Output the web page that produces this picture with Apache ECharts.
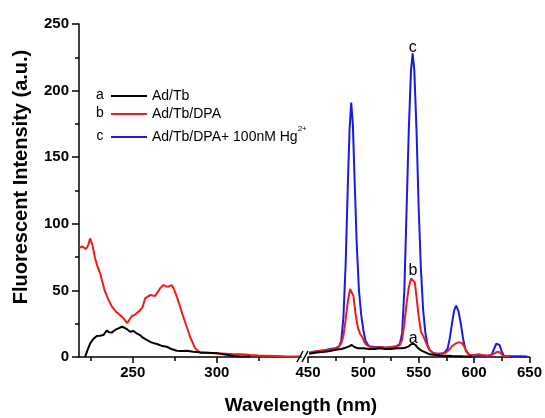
<!DOCTYPE html>
<html><head><meta charset="utf-8">
<script src="https://cdn.jsdelivr.net/npm/echarts@6/dist/echarts.min.js"></script>
<style>html,body{margin:0;padding:0;background:#fff}#c{width:545px;height:418px}</style>
</head><body><div id="c"></div>
<script>
// ---- data ----
var seriesNames = ['Ad/Tb', 'Ad/Tb/DPA', 'Ad/Tb/DPA+ 100nM Hg2+'];
var seriesLetters = ['a', 'b', 'c'];
var leftTicksMajor = [250, 300];
var leftTicksMinor = [225, 275, 325];
var rightTicks = [450, 500, 550, 600, 650];
var yTicks = [0, 50, 100, 150, 200, 250];

// left segment (excitation, 218-350 nm)
var blackLeft = [[221.6,0],[223,5],[224.6,10],[226.5,13.5],[228.6,15.8],[230.5,16],[232.5,16.5],[234.5,19.8],[236,18.5],[237.5,18.3],[239.5,20.3],[241.5,21.5],[243.5,22.7],[245,22],[246.4,21],[248.4,19],[250.4,19.5],[252,18],[254.3,16.5],[256,14.5],[258.3,12.8],[261,11],[264.3,9.8],[267,8.5],[270.2,7.7],[273,6],[276.2,4.7],[279,4.5],[282.1,4.7],[286,4],[290.1,3.5],[295,3.2],[300,2.8],[305,1.8],[309.9,0.8],[315,0.4],[320,0.3]];
var redLeft = [[218.2,82],[219.8,83],[222.2,81],[223.5,84],[224.6,89],[226,84],[227.6,74],[229,68],[230.5,63],[232,56],[233.5,49],[235.5,43],[237.5,38],[240,34],[242.4,31.5],[244.5,29],[246.8,25.5],[248,28],[249.4,30.8],[251,31.5],[254.3,35],[256,38],[257.3,44],[260.3,46.5],[263.3,45.8],[266.3,51.6],[268.2,54],[270,53],[271.2,52.8],[273.2,54],[274.5,51],[276.2,45.3],[280.1,30],[284.1,15.2],[287.1,6.5],[290.1,3],[295,3],[300,2.8],[305,2.5],[310,2],[315,2],[320,1.5],[325,1.2],[330,1],[335,0.8],[340,0.5],[345,0.4],[349.6,0.3]];

// right segment (emission, 450-650 nm)
var blackRight = [[451,2.5],[455,3],[460,3.5],[465,4],[470,4.5],[475,5.5],[480,6],[484,7],[487,8],[489.5,9],[492,7.5],[495,6.5],[500,6.5],[505,6],[510,6],[515,6.5],[520,6],[525,6],[530,6.5],[535,6.5],[538,7],[541,8],[543,9.5],[545,10],[547,9],[549,7],[552,5],[556,3.5],[560,2],[565,1.5],[570,1],[575,1],[580,0.8],[590,0.5],[598,0.3]];
var redRight = [[451,3],[455,4],[460,4.5],[465,5],[470,5.5],[475,6.5],[478,8],[480,10],[482,16],[484,28],[486,42],[488,51],[489.5,52],[491,46],[493,32],[495,22],[497,17.5],[499,15],[501,11],[503,9],[506,7.5],[510,7],[515,7.5],[520,7],[525,7.5],[530,7.5],[533,9],[535,13],[537,25],[539,40],[541,52],[543,59],[544.8,60.5],[546.5,56],[548,45],[550,30],[552,19],[554,16],[556,12],[558,8],[560,5],[563,3],[566,2.5],[570,2.5],[574,3],[577,5],[580,8],[583,10],[586,11],[589,10.5],[591,8],[593,4],[596,1.5],[600,1.5],[604,2],[607,1.5],[612,1],[616,1.5],[619,3],[621.5,4],[624,3],[626,1],[632,0.3]];
var blueRight = [[451,3],[455,4],[460,4.5],[465,5],[470,6],[475,6.5],[478,8],[480,12],[482,30],[484,70],[486,130],[487.5,170],[489,191],[490.5,175],[492,135],[494,85],[496,50],[498,32],[500,20],[502,12],[505,8],[510,7.5],[515,7.5],[520,7],[525,7.5],[530,8],[533,10],[535,18],[537,50],[539,110],[541,170],[543,215],[544.5,228],[546,215],[548,170],[550,110],[552,65],[554,35],[556,18],[558,9],[560,5],[563,3],[566,2.5],[570,2.5],[573,3],[576,6],[578,14],[580,25],[582,35],[583.8,38.5],[586,34],[588,25],[590,14],[592,6],[595,2],[598,1],[602,1],[606,1.5],[610,1],[614,1],[616,2],[618,6],[620,10],[621.5,10.8],[623,9],[625,4],[627,1],[632,0.5],[640,0.5],[648,0.3]];

var colors = ['#000000', '#ee1c1c', '#1a1ae6'];
var FONT = 'Liberation Sans, Arial, sans-serif';
var axisLineStyle = { color: '#000', width: 1.5 };
var chart = echarts.init(document.getElementById('c'));

function lineSeries(name, data, color, xi, yi, z, letter) {
  var s = { type: 'line', name: name, data: data, xAxisIndex: xi, yAxisIndex: yi, showSymbol: false,
    symbol: 'none', lineStyle: { color: color, width: 2 }, itemStyle: { color: color }, z: z, animation: false };
  if (letter) {
    s.markPoint = { symbol: 'circle', symbolSize: 1, itemStyle: { color: 'rgba(0,0,0,0)' }, silent: true,
      data: [{ type: 'max' }],
      label: { show: true, formatter: letter, position: 'top', distance: 1, offset: [0, 4], color: '#000', fontSize: 16, fontFamily: FONT } };
  }
  return s;
}

chart.setOption({
  animation: false,
  grid: [
    { left: 79, top: 24, width: 222, height: 333 },
    { left: 308, top: 24, width: 221.6, height: 333 }
  ],
  xAxis: [
    { type: 'value', gridIndex: 0, min: 218, max: 350.1, position: 'bottom',
      axisLine: { show: true, onZero: false, lineStyle: axisLineStyle },
      axisTick: { show: true, inside: false, length: 6, lineStyle: { width: 1.5 }, customValues: leftTicksMajor },
      axisLabel: { customValues: leftTicksMajor, color: '#000', fontWeight: 'bold', fontSize: 15, fontFamily: FONT, margin: 8 },
      splitLine: { show: false } },
    { type: 'value', gridIndex: 1, min: 450, max: 650, interval: 50, position: 'bottom',
      axisLine: { show: true, onZero: false, lineStyle: axisLineStyle },
      axisTick: { show: true, inside: false, length: 6, lineStyle: { width: 1.5 } },
      minorTick: { show: true, splitNumber: 2, length: 4, lineStyle: { color: '#000', width: 1.5 } },
      axisLabel: { color: '#000', fontWeight: 'bold', fontSize: 15, fontFamily: FONT, margin: 8 },
      splitLine: { show: false } },
    { type: 'value', gridIndex: 0, min: 218, max: 350.1, position: 'bottom', offset: 0,
      axisLine: { show: false, onZero: false },
      axisTick: { show: true, inside: false, length: 4, lineStyle: { color: '#000', width: 1.5 }, customValues: leftTicksMinor },
      axisLabel: { show: false },
      splitLine: { show: false } }
  ],
  yAxis: [
    { type: 'value', gridIndex: 0, min: 0, max: 250, interval: 50,
      axisLine: { show: true, lineStyle: axisLineStyle },
      axisTick: { show: true, length: 7, lineStyle: { width: 1.5 } },
      minorTick: { show: true, splitNumber: 2, length: 4, lineStyle: { color: '#000', width: 1.5 } },
      axisLabel: { color: '#000', fontWeight: 'bold', fontSize: 15, fontFamily: FONT, margin: 10 },
      splitLine: { show: false } },
    { type: 'value', gridIndex: 1, min: 0, max: 250, show: false }
  ],
  legend: {
    data: seriesNames, orient: 'vertical', left: 106, top: 84, itemWidth: 36, itemHeight: 2, itemGap: 4,
    icon: 'rect', selectedMode: false,
    formatter: function (n) { return n === seriesNames[2] ? '{h|Ad/Tb/DPA+ 100nM Hg}{s|2+}' : '{t|' + n + '}'; },
    textStyle: { color: '#000', fontFamily: FONT, fontSize: 14,
      rich: { t: { fontSize: 14, lineHeight: 16, fontFamily: FONT, color: '#000' },
              h: { fontSize: 14, lineHeight: 24, fontFamily: FONT, color: '#000' },
              s: { fontSize: 8, lineHeight: 8, padding: [0, 0, 16, 0], fontFamily: FONT, color: '#000' } } }
  },
  series: [
    lineSeries(seriesNames[2], blueRight, colors[2], 1, 1, 2, seriesLetters[2]),
    lineSeries(seriesNames[1], redLeft, colors[1], 0, 0, 3),
    lineSeries(seriesNames[1], redRight, colors[1], 1, 1, 3, seriesLetters[1]),
    lineSeries(seriesNames[0], blackLeft, colors[0], 0, 0, 4),
    lineSeries(seriesNames[0], blackRight, colors[0], 1, 1, 4, seriesLetters[0])
  ],
  graphic: [
    { type: 'line', shape: { x1: 297, y1: 362, x2: 303, y2: 351 }, style: { stroke: '#000', lineWidth: 1.5 }, z: 10 },
    { type: 'line', shape: { x1: 302, y1: 362, x2: 308, y2: 351 }, style: { stroke: '#000', lineWidth: 1.5 }, z: 10 },
    { type: 'text', x: 301, y: 406, style: { text: 'Wavelength (nm)', font: 'bold 19px ' + FONT, fill: '#000', textAlign: 'center', textVerticalAlign: 'middle' } },
    { type: 'text', x: 21, y: 177, rotation: Math.PI / 2, style: { text: 'Fluorescent Intensity (a.u.)', font: 'bold 20px ' + FONT, fill: '#000', textAlign: 'center', textVerticalAlign: 'middle' } },
    { type: 'text', x: 100, y: 95, style: { text: seriesLetters[0], font: '14px ' + FONT, fill: '#000', textAlign: 'center', textVerticalAlign: 'middle' } },
    { type: 'text', x: 100, y: 113, style: { text: seriesLetters[1], font: '14px ' + FONT, fill: '#000', textAlign: 'center', textVerticalAlign: 'middle' } },
    { type: 'text', x: 100, y: 136, style: { text: seriesLetters[2], font: '14px ' + FONT, fill: '#000', textAlign: 'center', textVerticalAlign: 'middle' } }
  ]
});
</script></body></html>
